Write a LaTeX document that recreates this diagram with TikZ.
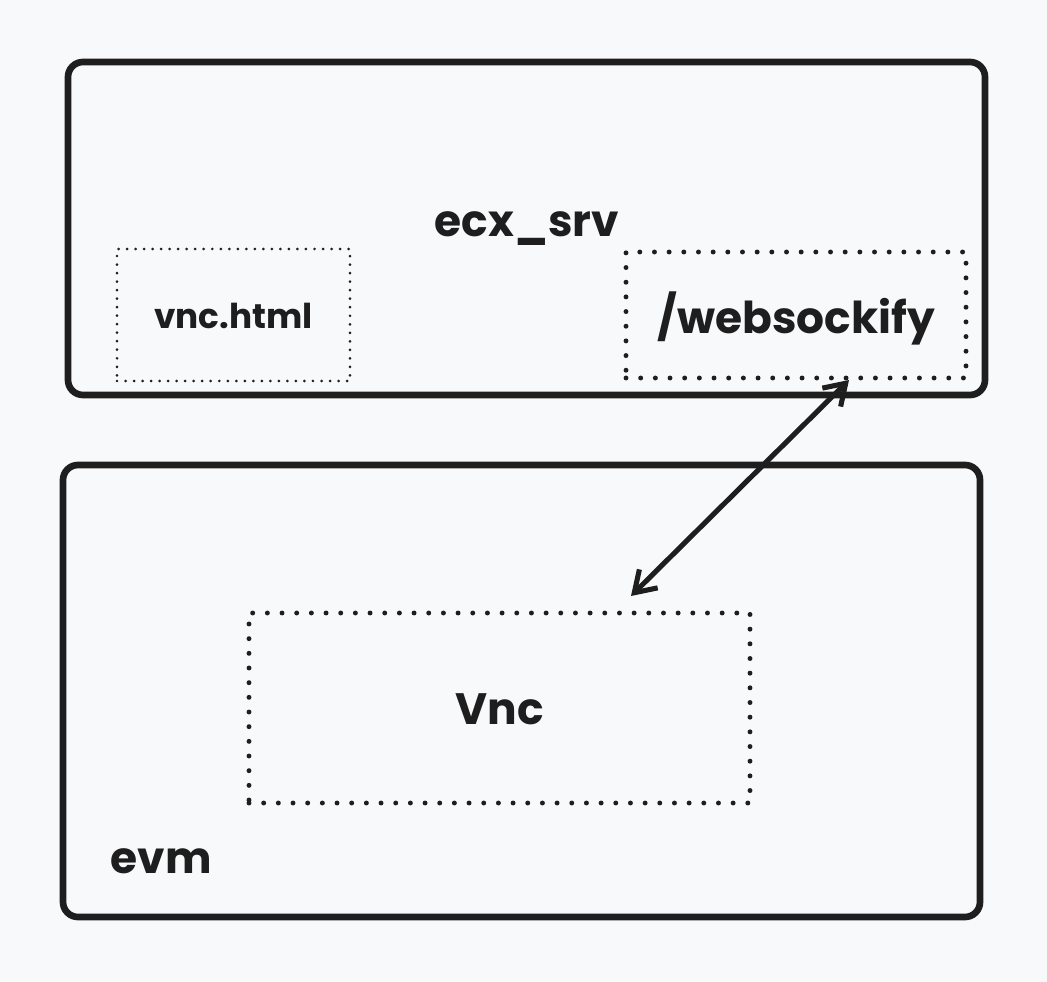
\documentclass[tikz,border=0pt]{standalone}
\usepackage{fontspec}
\setmainfont{Poppins}
\usepackage{tikz}
\usetikzlibrary{arrows.meta}
\definecolor{ink}{HTML}{1E1E1E}
\definecolor{paper}{HTML}{F8F9FA}

\begin{document}
\begin{tikzpicture}[line cap=round,line join=round,x=0.02cm,y=-0.02cm,
  frame/.style={draw=ink,line width=3.8pt,rounded corners=0.3cm},
  bigdots/.style={draw=ink,line width=2.8pt,dash pattern=on 0pt off 8.35pt,inner sep=0pt},
  smalldots/.style={draw=ink,line width=1.7pt,dash pattern=on 0pt off 4.85pt,inner sep=0pt},
  lbl/.style={text=ink,font=\bfseries\fontsize{25}{30}\selectfont},
  smalllbl/.style={text=ink,font=\bfseries\fontsize{19.5}{23}\selectfont}]
\fill[paper] (0,0) rectangle (1047,982);

\draw[frame] (68,62) rectangle (985,395);
\draw[frame] (63,465) rectangle (980,917);

\node[smalldots,minimum width=0.02cm*233,minimum height=0.02cm*132] (html) at (233.5,315) {};
\node[bigdots,minimum width=0.02cm*340,minimum height=0.02cm*126] (ws) at (796,315) {};
\node[bigdots,minimum width=0.02cm*501,minimum height=0.02cm*190] (vncbox) at (499.5,708) {};

\node[smalllbl] (htmltxt) at (233.5,316) {vnc.html};
\node[lbl] (wstxt) at (796,318) {/websockify};
\node[lbl] (srv) at (527,229) {ecx\_srv};
\node[lbl] (vnc) at (500,709) {Vnc};
\node[lbl] (evm) at (161,861) {evm};

\coordinate (top) at (849,380);
\coordinate (bot) at (631,596);
\draw[ink,line width=2.9pt,{Straight Barb[length=0.4cm,width=0.52cm]}-{Straight Barb[length=0.4cm,width=0.52cm]}] (bot) -- (top);

\end{tikzpicture}
\end{document}
